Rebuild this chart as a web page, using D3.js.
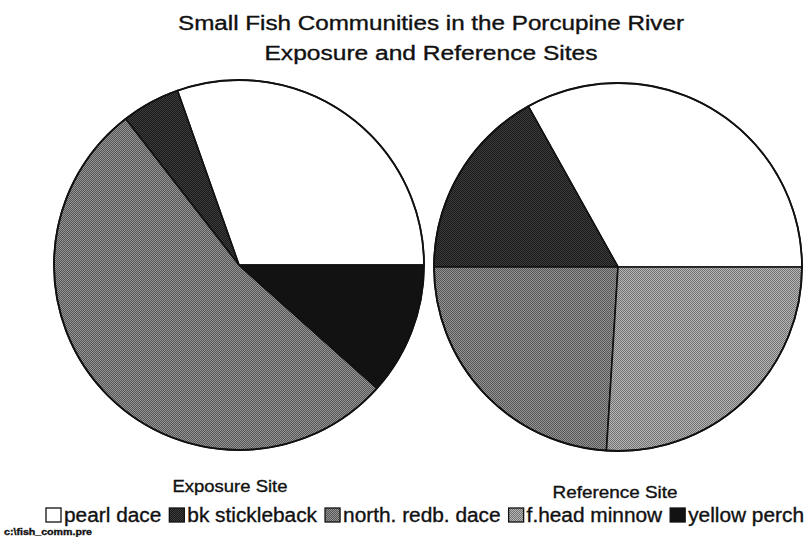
<!DOCTYPE html>
<html>
<head>
<meta charset="utf-8">
<script src="https://cdn.jsdelivr.net/npm/d3@7/dist/d3.min.js"></script>
<style>
  html, body { margin: 0; padding: 0; background: #fff; }
  svg { display: block; }
  text { font-family: "Liberation Sans", Arial, Helvetica, sans-serif; fill: #111; stroke: #111; stroke-width: 0.35px; }
</style>
</head>
<body>
<svg id="chart" width="812" height="537"></svg>
<script>
// Species, in drawing and legend order
const species = ["pearl dace", "bk stickleback", "north. redb. dace", "f.head minnow", "yellow perch"];
// Share of catch (%) at each site
const exposureValues  = [30.4, 5.1, 52.9, 0, 11.6];
const referenceValues = [33.1, 16.9, 24.0, 26.0, 0];
const siteNames = ["Exposure Site", "Reference Site"];
const titleLines = ["Small Fish Communities in the Porcupine River", "Exposure and Reference Sites"];
const footnote = "c:\\fish_comm.pre";

const svg = d3.select("#chart");

// Dithered grey fills
const defs = svg.append("defs");
function dither(id, a, b) {
  const p = defs.append("pattern").attr("id", id)
    .attr("width", 2).attr("height", 2).attr("patternUnits", "userSpaceOnUse");
  p.append("rect").attr("width", 2).attr("height", 2).attr("fill", a);
  p.append("rect").attr("width", 1).attr("height", 1).attr("fill", b);
  p.append("rect").attr("x", 1).attr("y", 1).attr("width", 1).attr("height", 1).attr("fill", b);
}
dither("texDark", "#1a1a1a", "#3c3c3c");
dither("texRedb", "#555", "#959595");
dither("texMinnow", "#727272", "#b6b6b6");

const color = d3.scaleOrdinal()
  .domain(species)
  .range(["#ffffff", "url(#texDark)", "url(#texRedb)", "url(#texMinnow)", "#121212"]);

// Slices run counter-clockwise from 3 o'clock
const pie = d3.pie().sort(null)
  .value(d => d.value)
  .startAngle(Math.PI / 2)
  .endAngle(Math.PI / 2 - 2 * Math.PI);

const sites = [
  { name: siteNames[0], values: exposureValues,  cx: 239, cy: 265, r: 185, lx: 230, ly: 492, lw: 115 },
  { name: siteNames[1], values: referenceValues, cx: 618, cy: 267, r: 184, lx: 615, ly: 498, lw: 125 }
];

sites.forEach(s => {
  const g = svg.append("g").attr("transform", `translate(${s.cx},${s.cy})`);
  const arc = d3.arc().innerRadius(0).outerRadius(s.r);
  const data = pie(s.values.map((v, i) => ({ name: species[i], value: v })))
    .filter(d => d.data.value > 0);
  g.selectAll("path.slice").data(data).join("path")
    .attr("class", "slice")
    .attr("d", arc)
    .attr("fill", d => color(d.data.name))
    .attr("stroke", "#111")
    .attr("stroke-width", 1.6)
    .attr("stroke-linejoin", "round");
  g.append("circle").attr("r", s.r).attr("fill", "none")
    .attr("stroke", "#111").attr("stroke-width", 1.8);

  svg.append("text")
    .attr("x", s.lx).attr("y", s.ly)
    .attr("text-anchor", "middle")
    .attr("font-size", 16.5)
    .attr("textLength", s.lw).attr("lengthAdjust", "spacingAndGlyphs")
    .text(s.name);
});

// Title
const titleSpecs = [{ y: 30, w: 506 }, { y: 60, w: 333 }];
titleLines.forEach((t, i) => {
  svg.append("text")
    .attr("x", 431).attr("y", titleSpecs[i].y)
    .attr("text-anchor", "middle")
    .attr("font-size", 19.5)
    .attr("textLength", titleSpecs[i].w).attr("lengthAdjust", "spacingAndGlyphs")
    .text(t);
});

// Legend: swatch + label, laid out left to right between x0 and x1
const x0 = 46, x1 = 804, boxW = 15, boxGap = 3, itemGap = 8;
const lg = svg.append("g");
const labels = species.map(name => lg.append("text")
  .attr("y", 522).attr("font-size", 20).text(name));
const natural = labels.map(t => t.node().getComputedTextLength());
const free = (x1 - x0) - species.length * (boxW + boxGap) - (species.length - 1) * itemGap;
const scale = free / d3.sum(natural);
let x = x0;
species.forEach((name, i) => {
  lg.append("rect")
    .attr("x", x).attr("y", 508).attr("width", boxW).attr("height", 14)
    .attr("fill", color(name))
    .attr("stroke", "#111").attr("stroke-width", 1.3);
  x += boxW + boxGap;
  const w = natural[i] * scale;
  labels[i].attr("x", x)
    .attr("textLength", w).attr("lengthAdjust", "spacingAndGlyphs");
  x += w + itemGap;
});

// File path note
svg.append("text")
  .attr("x", 4).attr("y", 535)
  .attr("font-size", 9)
  .attr("font-weight", "bold")
  .attr("stroke-width", 0)
  .attr("textLength", 88).attr("lengthAdjust", "spacingAndGlyphs")
  .text(footnote);
</script>
</body>
</html>
